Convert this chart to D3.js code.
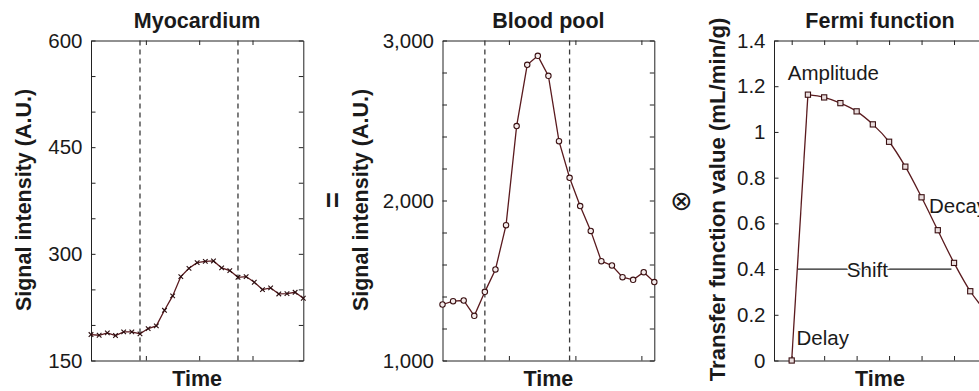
<!DOCTYPE html>
<html>
<head>
<meta charset="utf-8">
<script src="https://d3js.org/d3.v7.min.js"></script>
<style>
  body { margin: 0; background: #fff; }
  svg { display: block; font-family: "Liberation Sans", Arial, sans-serif; }
  .tick text { font-size: 20.5px; fill: #1a1a1a; }
  .domain, .tick line { stroke: #222; stroke-width: 1; }
  .bold { font-weight: bold; font-size: 21.5px; fill: #1a1a1a; }
  .note { font-size: 20.5px; fill: #1a1a1a; }
</style>
</head>
<body>
<svg id="chart" width="979" height="391"></svg>
<script>
// Myocardium: 27 frames
const myoValues = [186.5, 185.5, 188.9, 185.1, 190.3, 190.3, 187.5, 194.9, 198.7, 220.6,
  240.8, 268, 279.6, 287.6, 289.4, 290, 280.2, 276.4, 267, 268, 260, 249.7, 252.1,
  243.6, 244.1, 245.9, 237.5];
const myoDashed = [6, 18];
const myoXTicks = [6.72, 13.25, 19.78];
const myoYTicks = [150, 200, 250, 300, 350, 400, 450, 500, 550, 600];
const myoYLabels = [150, 300, 450, 600];

// Blood pool: 21 frames
const bloodValues = [1350, 1371, 1375, 1279, 1429, 1569, 1846, 2465, 2848, 2904, 2779,
  2371, 2142, 1965, 1810, 1621, 1594, 1521, 1504, 1552, 1490];
const bloodDashed = [4, 12];
const bloodXTicks = [6.27, 12.55, 18.78];
const bloodYTicks = [1000, 1200, 1400, 1600, 1800, 2000, 2200, 2400, 2600, 2800, 3000];
const bloodYLabels = [1000, 2000, 3000];

// Fermi function: samples every half time unit from t = 1
const fermiTimes = [1, 1.5, 2, 2.5, 3, 3.5, 4, 4.5, 5, 5.5, 6, 6.5, 7];
const fermiValues = [0, 1.163, 1.151, 1.126, 1.09, 1.033, 0.957, 0.848, 0.714, 0.57, 0.427, 0.303, 0.21];
const fermiXTicks = [1, 2, 3, 4, 5, 6, 7];
const fermiYTicks = [0, 0.2, 0.4, 0.6, 0.8, 1, 1.2, 1.4];
const fermiNotes = [
  { text: "Amplitude", t: 0.88, v: 1.228 },
  { text: "Delay", t: 1.15, v: 0.068 },
  { text: "Decay", t: 5.23, v: 0.645 }
];
const shiftLine = { t0: 1.19, t1: 5.92, v: 0.4, label: "Shift", tLabel: 3.33 };

const lineColor = "#5a1a1e";
const plotTop = 40.5, plotBottom = 360.5;
const svg = d3.select("#chart");

function panel(opt) {
  const x = d3.scaleLinear().domain(opt.xDomain).range([opt.left, opt.right]);
  const y = d3.scaleLinear().domain(opt.yDomain).range([plotBottom, plotTop]);
  const g = svg.append("g");

  const yFmt = d => opt.yLabels.includes(d) ? opt.fmt(d) : "";
  g.append("g").attr("transform", `translate(${opt.left},0)`)
    .call(d3.axisLeft(y).tickValues(opt.yTicks).tickFormat(yFmt).tickSize(-4.5).tickSizeOuter(0).tickPadding(8.5));
  g.append("g").attr("transform", `translate(${opt.right},0)`)
    .call(d3.axisRight(y).tickValues(opt.yTicks).tickFormat("").tickSize(-4.5).tickSizeOuter(0));
  g.append("g").attr("transform", `translate(0,${plotBottom})`)
    .call(d3.axisBottom(x).tickValues(opt.xTicks).tickFormat("").tickSize(-4.5).tickSizeOuter(0));
  g.append("g").attr("transform", `translate(0,${plotTop})`)
    .call(d3.axisTop(x).tickValues(opt.xTicks).tickFormat("").tickSize(-4.5).tickSizeOuter(0));

  (opt.dashed || []).forEach(d => {
    g.append("line").attr("x1", x(d)).attr("x2", x(d)).attr("y1", plotTop).attr("y2", plotBottom)
      .attr("stroke", "#3a3a3a").attr("stroke-width", 1.3).attr("stroke-dasharray", "5,4");
  });

  const pts = opt.values.map((v, i) => ({ t: opt.times[i], v }));
  const line = d3.line().x(d => x(d.t)).y(d => y(d.v));
  if (opt.smooth) {
    g.append("path").attr("d", line(pts.slice(0, 2)))
      .attr("fill", "none").attr("stroke", lineColor).attr("stroke-width", 1.3);
    g.append("path").attr("d", line.curve(d3.curveCatmullRom)(pts.slice(1)))
      .attr("fill", "none").attr("stroke", lineColor).attr("stroke-width", 1.3);
  } else {
    g.append("path").attr("d", line(pts))
      .attr("fill", "none").attr("stroke", lineColor).attr("stroke-width", 1.3);
  }

  const m = g.selectAll(".mk").data(pts).enter().append("g")
    .attr("transform", d => `translate(${x(d.t)},${y(d.v)})`);
  if (opt.marker === "x") {
    m.append("path").attr("d", "M-2.3,-2.3L2.3,2.3M-2.3,2.3L2.3,-2.3")
      .attr("stroke", "#2a0c0e").attr("stroke-width", 1.1);
  } else if (opt.marker === "o") {
    m.append("circle").attr("r", 2.7).attr("fill", "#f4ecec")
      .attr("stroke", "#3a1012").attr("stroke-width", 1.1);
  } else {
    m.append("rect").attr("x", -2.6).attr("y", -2.6).attr("width", 5.2).attr("height", 5.2)
      .attr("fill", "#eadede").attr("stroke", "#3a1012").attr("stroke-width", 1.1);
  }

  const cx = (opt.left + opt.right) / 2;
  g.append("text").attr("class", "bold").attr("x", cx).attr("y", 28)
    .attr("text-anchor", "middle").text(opt.title);
  g.append("text").attr("class", "bold").attr("x", cx).attr("y", 386)
    .attr("text-anchor", "middle").text("Time");
  g.append("text").attr("class", "bold").attr("text-anchor", "middle")
    .attr("transform", `translate(${opt.labelX},${opt.labelY}) rotate(-90)`)
    .style("font-size", opt.labelSize + "px").text(opt.ylabel);
  return { g, x, y };
}

const idx = n => d3.range(n);

panel({
  left: 91, right: 303.3, xDomain: [0, 26], yDomain: [150, 600],
  xTicks: myoXTicks, yTicks: myoYTicks, yLabels: myoYLabels, fmt: d3.format("d"),
  values: myoValues, times: idx(myoValues.length), dashed: myoDashed, marker: "x",
  title: "Myocardium", ylabel: "Signal intensity (A.U.)", labelX: 31, labelY: 200, labelSize: 21.5
});

panel({
  left: 442.5, right: 654.3, xDomain: [0, 20], yDomain: [1000, 3000],
  xTicks: bloodXTicks, yTicks: bloodYTicks, yLabels: bloodYLabels, fmt: d3.format(","),
  values: bloodValues, times: idx(bloodValues.length), dashed: bloodDashed, marker: "o",
  title: "Blood pool", ylabel: "Signal intensity (A.U.)", labelX: 368, labelY: 200, labelSize: 21.5
});

const fermi = panel({
  left: 774, right: 986, xDomain: [0.455, 6.985], yDomain: [0, 1.4],
  xTicks: fermiXTicks, yTicks: fermiYTicks, yLabels: fermiYTicks, fmt: d => String(+d.toFixed(1)),
  values: fermiValues, times: fermiTimes, marker: "s", smooth: true,
  title: "Fermi function", ylabel: "Transfer function value (mL/min/g)", labelX: 725, labelY: 199.5, labelSize: 22.2
});

// operators between panels
svg.append("text").attr("class", "bold").attr("text-anchor", "middle")
  .attr("dominant-baseline", "central").style("font-size", "27px")
  .attr("transform", "translate(333,200) rotate(-90)").text("=");
svg.append("text").attr("x", 681.5).attr("y", 200).attr("text-anchor", "middle")
  .attr("dominant-baseline", "central").style("font-family", "DejaVu Sans")
  .style("font-size", "27px").attr("fill", "#1a1a1a").text("\u2297");

// Fermi annotations
const fx = fermi.x, fy = fermi.y;
fermi.g.append("line").attr("x1", fx(shiftLine.t0)).attr("x2", fx(shiftLine.t1))
  .attr("y1", fy(shiftLine.v)).attr("y2", fy(shiftLine.v)).attr("stroke", "#222").attr("stroke-width", 1.2);
fermi.g.append("text").attr("class", "note").attr("x", fx(shiftLine.tLabel)).attr("y", fy(shiftLine.v))
  .attr("text-anchor", "middle").attr("dominant-baseline", "central")
  .attr("stroke", "#fff").attr("stroke-width", 3).attr("paint-order", "stroke")
  .text(shiftLine.label);
fermi.g.selectAll(".fn").data(fermiNotes).enter().append("text").attr("class", "note")
  .attr("x", d => fx(d.t)).attr("y", d => fy(d.v)).text(d => d.text);
</script>
</body>
</html>
